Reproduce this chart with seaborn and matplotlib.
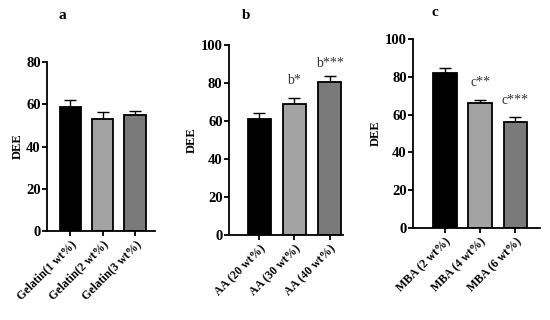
import matplotlib
matplotlib.use('Agg')
import numpy as np
import pandas as pd
import matplotlib.pyplot as plt
import seaborn as sns

sns.set_style('ticks')
plt.rcParams['font.family'] = ['Liberation Serif', 'DejaVu Serif']
plt.rcParams.update({'text.color': 'black', 'axes.labelcolor': 'black',
                     'xtick.color': 'black', 'ytick.color': 'black',
                     'axes.edgecolor': 'black'})

# ── Data ────────────────────────────────────────────────────────────────────
gel_labels = ['Gelatin(1 wt%)', 'Gelatin(2 wt%)', 'Gelatin(3 wt%)']
gel_dee = [58.5, 53.2, 55.0]
gel_err = [3.5, 3.0, 2.0]

aa_labels = ['AA (20 wt%)', 'AA (30 wt%)', 'AA (40 wt%)']
aa_dee = [61.0, 69.0, 80.5]
aa_err = [3.0, 3.0, 3.2]
aa_marks = ['', 'b*', 'b***']

mba_labels = ['MBA (2 wt%)', 'MBA (4 wt%)', 'MBA (6 wt%)']
mba_dee = [82.0, 66.0, 56.0]
mba_err = [2.8, 2.0, 2.8]
mba_marks = ['', 'c**', 'c***']

bar_colors = ['#000000', '#a3a3a3', '#7a7a7a']

fig = plt.figure(figsize=(5.5, 3.2), dpi=100)

panels = [
    # labels, values, errors, marks, axes rect, ylim, ytick step, xlim, title, title pos, mark y
    (gel_labels, gel_dee, gel_err, None, [0.0855, 0.278, 0.197, 0.528], 80, 20,
     (-0.73, 2.64), 'a', (0.113, 0.953), None),
    (aa_labels, aa_dee, aa_err, aa_marks, [0.416, 0.266, 0.208, 0.593], 100, 20,
     (-0.87, 2.39), 'b', (0.447, 0.953), [0, 81.5, 90.5]),
    (mba_labels, mba_dee, mba_err, mba_marks, [0.751, 0.2875, 0.231, 0.5905], 100, 20,
     (-0.91, 2.7), 'c', (0.791, 0.962), [0, 77, 67.5]),
]

for labels, vals, errs, marks, rect, ymax, step, xlim, title, tpos, mark_y in panels:
    ax = fig.add_axes(rect)
    df = pd.DataFrame({'group': labels, 'DEE': vals})
    ax.errorbar(range(len(vals)), vals, yerr=[[0] * len(vals), errs], fmt='none',
                ecolor='black', elinewidth=1.0, capsize=4, capthick=1.0, zorder=1)
    sns.barplot(data=df, x='group', y='DEE', hue='group', palette=bar_colors,
                legend=False, width=0.67, edgecolor='black', linewidth=1.3,
                ax=ax, zorder=2)
    ax.set_xlim(*xlim)
    ax.set_ylim(0, ymax)
    yt = np.arange(0, ymax + 1, step)
    ax.set_yticks(yt, [str(v) for v in yt], fontweight='bold')
    ax.set_xlabel('')
    ax.set_ylabel('DEE', fontsize=9, fontweight='bold', labelpad=2)
    ax.tick_params(axis='y', labelsize=10.5, width=1.3, length=3.5, pad=1)
    ax.tick_params(axis='x', labelsize=8.5, width=1.3, length=3.5, pad=2)
    ax.set_xticks(range(len(labels)))
    ax.set_xticklabels(labels, rotation=45, ha='right', rotation_mode='anchor',
                       fontweight='bold')
    sns.despine(ax=ax)
    for s in ['left', 'bottom']:
        ax.spines[s].set_linewidth(1.3)
    if marks:
        for i, m in enumerate(marks):
            if m:
                ax.text(i, mark_y[i], m, ha='center', va='center', fontsize=10,
                        color='#333333')
    fig.text(tpos[0], tpos[1], title, ha='center', va='center', fontsize=11,
             fontweight='bold')

fig.savefig('out.png', dpi=100)
